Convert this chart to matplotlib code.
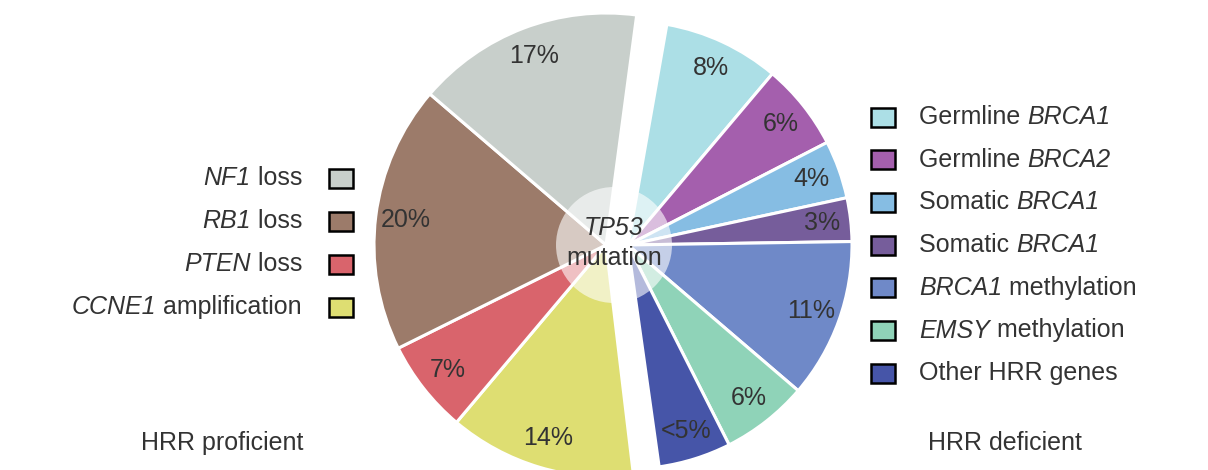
import math

import matplotlib
matplotlib.use("Agg")
import matplotlib.pyplot as plt
from matplotlib.patches import Wedge, Rectangle, Circle

plt.rcParams['font.family'] = ['Liberation Sans', 'DejaVu Sans']

# HRR deficient, clockwise from the top
def_values = [8, 6, 4, 3, 11, 6, 5]
def_pct = ['8%', '6%', '4%', '3%', '11%', '6%', '<5%']
# each name: (upright part, italic part, upright part)
def_names = [('Germline ', 'BRCA1', ''), ('Germline ', 'BRCA2', ''),
             ('Somatic ', 'BRCA1', ''), ('Somatic ', 'BRCA1', ''),
             ('', 'BRCA1', ' methylation'), ('', 'EMSY', ' methylation'),
             ('Other HRR genes', '', '')]
def_colors = ['#acdfe6', '#a45fad', '#86bde3', '#765d9b',
              '#6f89c8', '#8fd3b8', '#4655a8']

# HRR proficient, clockwise from the bottom
pro_values = [14, 7, 20, 17]
pro_pct = ['14%', '7%', '20%', '17%']
pro_names = [('', 'CCNE1', ' amplification'), ('', 'PTEN', ' loss'),
             ('', 'RB1', ' loss'), ('', 'NF1', ' loss')]
pro_colors = ['#dede72', '#d9646c', '#9c7b6a', '#c8cfcb']

W, H = 1208, 470
TXT = '#333333'
LFS = 18


def Y(y):
    return H - y


def draw_group(ax, values, pcts, colors, center, radius, a_start, a_end):
    scale = (a_start - a_end) / sum(values)
    theta = a_start
    for v, p, c in zip(values, pcts, colors):
        t2 = theta - v * scale
        ax.add_patch(Wedge(center, radius, t2, theta, facecolor=c,
                           edgecolor='white', linewidth=2.2))
        mid = math.radians((theta + t2) / 2)
        ax.text(center[0] + 0.87 * radius * math.cos(mid),
                center[1] + 0.87 * radius * math.sin(mid),
                p, ha='center', va='center', fontsize=18, color=TXT)
        theta = t2


def mixed_text(ax, renderer, x, y, parts, align='left'):
    styles = ['normal', 'italic', 'normal']
    items = []
    for s, st in zip(parts, styles):
        if not s:
            continue
        t = ax.text(0, y, s, style=st, ha='left', va='center',
                    fontsize=LFS, color=TXT)
        w = t.get_window_extent(renderer).width
        items.append((t, w))
    total = sum(w for _, w in items)
    cx = x if align == 'left' else x - total
    for t, w in items:
        t.set_x(cx)
        cx += w


fig = plt.figure(figsize=(W / 100, H / 100), dpi=100)
ax = fig.add_axes([0, 0, 1, 1])
ax.set_xlim(0, W)
ax.set_ylim(0, H)
ax.axis('off')
renderer = fig.canvas.get_renderer()

draw_group(ax, def_values, def_pct, def_colors, (628, Y(245)), 224, 80, -82)
draw_group(ax, pro_values, pro_pct, pro_colors, (606, Y(245)), 232, 276.8, 82.4)

ax.add_patch(Circle((614, Y(245)), 58, facecolor='white', alpha=0.6,
                    edgecolor='none'))
ax.text(614, Y(228), 'TP53', style='italic', ha='center', va='center',
        fontsize=18, color=TXT)
ax.text(614, Y(258), 'mutation', ha='center', va='center',
        fontsize=18, color=TXT)

# right legend
for i, (name, c) in enumerate(zip(def_names, def_colors)):
    y = 117 + i * 42.7
    ax.add_patch(Rectangle((871, Y(y) - 9.5), 24, 19, facecolor=c,
                           edgecolor='black', linewidth=1.8))
    mixed_text(ax, renderer, 919, Y(y), name, 'left')

# left legend, top to bottom
for i, (name, c) in enumerate(zip(pro_names[::-1], pro_colors[::-1])):
    y = 178 + i * 43
    ax.add_patch(Rectangle((329, Y(y) - 9.5), 24, 19, facecolor=c,
                           edgecolor='black', linewidth=1.8))
    mixed_text(ax, renderer, 302, Y(y), name, 'right')

ax.text(222, Y(443), 'HRR proficient', ha='center', va='center',
        fontsize=LFS, color=TXT)
ax.text(1005, Y(443), 'HRR deficient', ha='center', va='center',
        fontsize=LFS, color=TXT)

fig.savefig('out.png', dpi=100, facecolor='white')
